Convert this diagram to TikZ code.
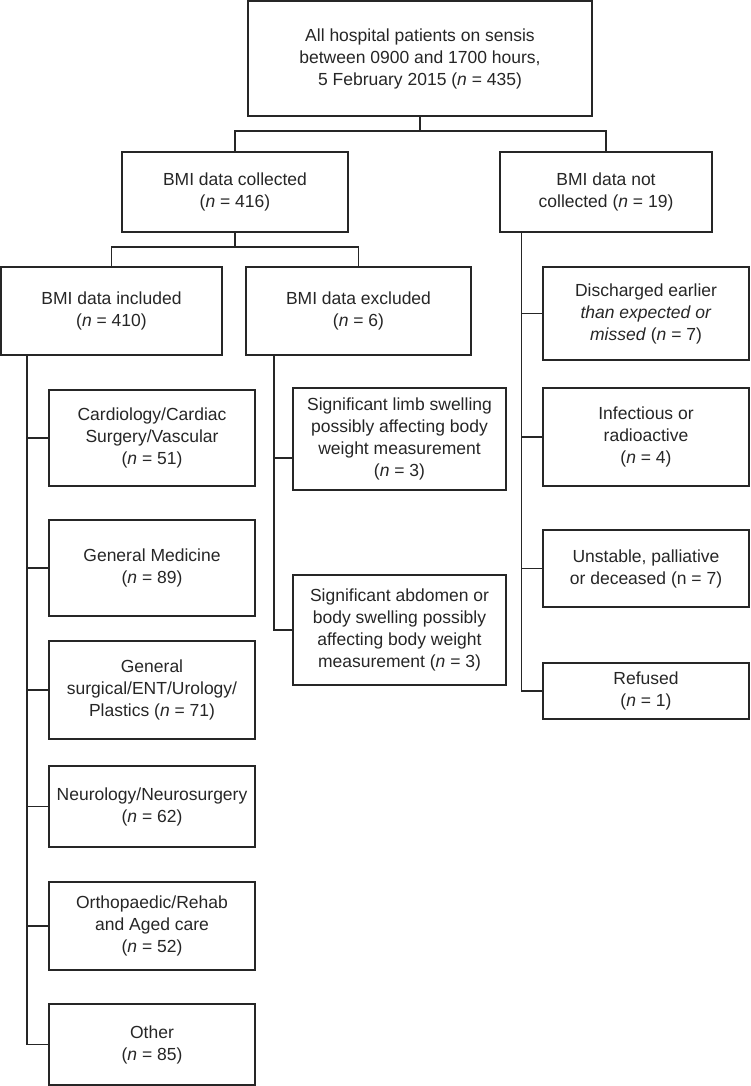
\documentclass[tikz,border=0pt]{standalone}
\usepackage{fontspec}
\setmainfont{Liberation Sans}
\begin{document}
\begin{tikzpicture}[x=1pt,y=-1pt,
  box/.style={draw=black!85, line width=1.1pt, align=center, inner sep=2pt,
    font=\fontsize{17.5}{22}\selectfont, text=black!85},
  conn/.style={draw=black!85, line width=1.1pt}]
\useasboundingbox (0,0) rectangle (750,1086);
% level 0
\node[box, minimum width=344pt, minimum height=115pt] (top) at (420,58.5)
  {All hospital patients on sensis\\between 0900 and 1700 hours,\\5 February 2015 (\textit{n} = 435)};
% level 1
\node[box, minimum width=226pt, minimum height=80pt] (coll) at (235,192)
  {BMI data collected\\(\textit{n} = 416)};
\node[box, minimum width=212pt, minimum height=80pt] (notc) at (606,192)
  {BMI data not\\collected (\textit{n} = 19)};
% level 2
\node[box, minimum width=221pt, minimum height=88pt] (incl) at (111.5,311)
  {BMI data included\\(\textit{n} = 410)};
\node[box, minimum width=225pt, minimum height=88pt] (excl) at (358.5,311)
  {BMI data excluded\\(\textit{n} = 6)};
% not collected branch
\node[box, minimum width=206pt, minimum height=93pt] (disc) at (646,313.5)
  {Discharged earlier\\\textit{than expected or}\\\textit{missed} (\textit{n} = 7)};
\node[box, minimum width=206pt, minimum height=98pt] (infect) at (646,437)
  {Infectious or\\radioactive\\(\textit{n} = 4)};
\node[box, minimum width=206pt, minimum height=77pt] (unst) at (646,568.5)
  {Unstable, palliative\\or deceased (n = 7)};
\node[box, minimum width=206pt, minimum height=56pt] (ref) at (646,691)
  {Refused\\(\textit{n} = 1)};
% excluded branch
\node[box, minimum width=213pt, minimum height=102pt] (limb) at (399.5,439)
  {Significant limb swelling\\possibly affecting body\\weight measurement\\(\textit{n} = 3)};
\node[box, minimum width=213pt, minimum height=110pt] (abd) at (399.5,630)
  {Significant abdomen or\\body swelling possibly\\affecting body weight\\measurement (\textit{n} = 3)};
% included branch
\node[box, minimum width=206pt, minimum height=96pt] (card) at (152,438)
  {Cardiology/Cardiac\\Surgery/Vascular\\(\textit{n} = 51)};
\node[box, minimum width=206pt, minimum height=96pt] (genmed) at (152,568)
  {General Medicine\\(\textit{n} = 89)};
\node[box, minimum width=206pt, minimum height=98pt] (gensurg) at (152,690)
  {General\\surgical/ENT/Urology/\\Plastics (\textit{n} = 71)};
\node[box, minimum width=206pt, minimum height=81pt] (neuro) at (152,806.5)
  {Neurology/Neurosurgery\\(\textit{n} = 62)};
\node[box, minimum width=206pt, minimum height=88pt] (ortho) at (152,926)
  {Orthopaedic/Rehab\\and Aged care\\(\textit{n} = 52)};
\node[box, minimum width=206pt, minimum height=81pt] (other) at (152,1044.5)
  {Other\\(\textit{n} = 85)};
% junctions
\coordinate (j1) at (420,131);
\coordinate (j2) at (235,247);
\coordinate (tI) at (27,355);
\coordinate (tE) at (274,355);
\coordinate (tN) at (521.5,232);
% connectors
\draw[conn] (top.south) -- (j1);
\draw[conn] (coll.north) |- (j1) -| (notc.north);
\draw[conn] (coll.south) -- (j2);
\draw[conn] (incl.north) |- (j2) -| (excl.north);
\draw[conn] (tI) |- (other.west);
\foreach \n in {card,genmed,gensurg,neuro,ortho}
  \draw[conn] (\n.west) -- (\n.west -| tI);
\draw[conn] (tE) |- (abd.west);
\draw[conn] ([yshift=-19pt]limb.west) -- ([yshift=-19pt]limb.west -| tE);
\draw[conn] (tN) |- (ref.west);
\foreach \n in {disc,infect,unst}
  \draw[conn] (\n.west) -- (\n.west -| tN);
\end{tikzpicture}
\end{document}
